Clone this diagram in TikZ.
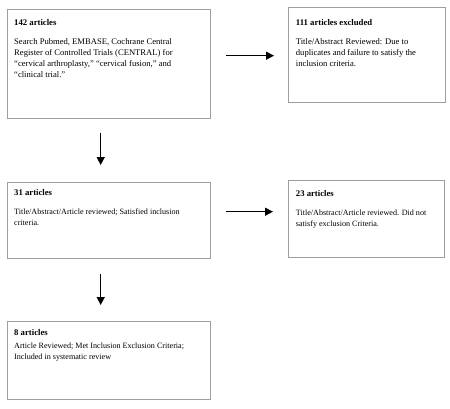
\documentclass[tikz,border=0pt]{standalone}
\usepackage{fontspec}
\setmainfont{Liberation Serif}
\usetikzlibrary{arrows.meta}
\begin{document}
\begin{tikzpicture}[x=1pt,y=-1pt,
  box/.style={draw=black!38, line width=0.9pt, inner sep=0pt},
  head/.style={anchor=base west, inner sep=0pt, font=\fontsize{8.7}{11}\selectfont\bfseries},
  body/.style={anchor=base west, inner sep=0pt, align=left, font=\fontsize{8.6}{11}\selectfont},
  bodys/.style={body, font=\fontsize{8.1}{11}\selectfont},
  arr/.style={line width=1.4pt, -{Triangle[length=8pt,width=8pt]}}]
\useasboundingbox (0,0) rectangle (450,408);
% boxes
\node[box, minimum width=203.4pt, minimum height=109pt] (b1) at (109,63.8) {};
\node[box, minimum width=156.7pt, minimum height=95pt] (b2) at (366.6,55.2) {};
\node[box, minimum width=203.4pt, minimum height=75.7pt] (b3) at (109,220.1) {};
\node[box, minimum width=155.7pt, minimum height=77pt] (b4) at (366.2,219.2) {};
\node[box, minimum width=202.7pt, minimum height=77.7pt] (b5) at (108.7,360.1) {};
% texts (body anchors are at the baseline of the last line)
\node[head] (h1) at (14,25) {142 articles};
\node[body] (t1) at (14,77) {Search Pubmed, EMBASE, Cochrane Central\\Register of Controlled Trials (CENTRAL) for\\“cervical arthroplasty,” “cervical fusion,” and\\“clinical trial.”};
\node[head] (h2) at (295.7,25) {111 articles excluded};
\node[body] (t2) at (295.7,66) {Title/Abstract Reviewed: Due to\\duplicates and failure to satisfy the\\inclusion criteria.};
\node[head] (h3) at (14,195) {31 articles};
\node[bodys] (t3) at (14,225.3) {Title/Abstract/Article reviewed; Satisfied inclusion\\criteria.};
\node[head] (h4) at (295.7,196.5) {23 articles};
\node[bodys] (t4) at (295.7,226.5) {Title/Abstract/Article reviewed. Did not\\satisfy exclusion Criteria.};
\node[head] (h5) at (14,335) {8 articles};
\node[bodys] (t5) at (14,359.5) {Article Reviewed; Met Inclusion Exclusion Criteria;\\Included in systematic review};
% arrow endpoints
\coordinate (a1s) at (226,55.7);
\coordinate (a1e) at (274,55.7);
\coordinate (a2s) at (100.7,133);
\coordinate (a2e) at (100.7,165);
\coordinate (a3s) at (226,211.7);
\coordinate (a3e) at (273,211.7);
\coordinate (a4s) at (100.7,274);
\coordinate (a4e) at (100.7,305);
\draw[arr] (a1s) -- (a1e);
\draw[arr] (a2s) -- (a2e);
\draw[arr] (a3s) -- (a3e);
\draw[arr] (a4s) -- (a4e);
\end{tikzpicture}
\end{document}
